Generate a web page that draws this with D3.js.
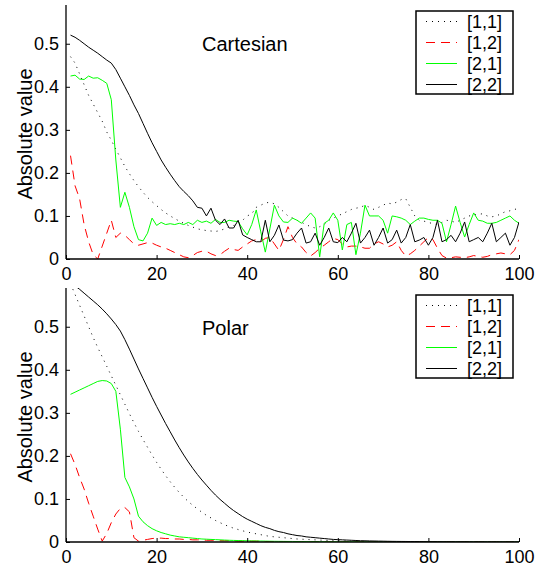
<!DOCTYPE html>
<html>
<head>
<meta charset="utf-8">
<script src="https://cdn.jsdelivr.net/npm/d3@7"></script>
<style>
  body { margin: 0; background: white; }
  text { font-family: "Liberation Sans", Arial, sans-serif; fill: black; }
</style>
</head>
<body>
<script>
// values for index 1..100
var steps = d3.range(1, 101)
var xTicks = [0, 20, 40, 60, 80, 100]
var yTicks = [0, 0.1, 0.2, 0.3, 0.4, 0.5]
var seriesNames = ["[1,1]", "[1,2]", "[2,1]", "[2,2]"]

// Cartesian panel
var cart11 = [.47,.455,.43,.405,.38,.36,.34,.32,.295,.276,.255,.235,.215,.198,.182,.168,.155,.143,.133,.124,
  .115,.107,.1,.094,.088,.083,.078,.074,.07,.068,.066,.065,.064,.066,.07,.075,.078,.08,.09,.1,
  .105,.12,.125,.13,.132,.128,.12,.11,.1,.095,.09,.085,.08,.075,.072,.075,.08,.09,.095,.1,
  .105,.11,.115,.118,.12,.125,.12,.115,.12,.125,.13,.128,.132,.138,.14,.12,.1,.09,.088,.085,
  .082,.08,.085,.09,.088,.085,.09,.095,.1,.102,.104,.105,.1,.098,.1,.105,.11,.112,.115,.118]
var cart12 = [.24,.17,.14,.08,.04,.01,0,.03,.06,.09,.05,.06,.055,.045,.035,.032,.035,.038,.037,.032,
  .028,.025,.02,.015,.01,.005,.003,.008,.015,.018,.018,.012,.008,.01,.018,.025,.022,.02,.028,.035,
  .042,.045,.04,.048,.05,.035,.02,.045,.075,.05,.035,.028,.015,.007,.015,.025,.032,.04,.048,.045,
  .035,.028,.03,.03,.028,.025,.025,.035,.04,.035,.028,.032,.04,.02,.007,.012,.02,.03,.04,.05,
  .045,.025,.008,.002,.003,.005,.004,.003,.005,.008,.006,.004,.006,.01,.012,.014,.012,.01,.02,.045]
var cart21 = [.425,.427,.418,.417,.425,.42,.421,.415,.408,.37,.23,.12,.155,.12,.075,.045,.042,.06,.095,.078,
  .085,.08,.082,.08,.083,.08,.085,.08,.09,.085,.088,.083,.092,.085,.085,.09,.088,.087,.07,.056,
  .08,.114,.063,.016,.07,.125,.1,.086,.085,.095,.09,.083,.095,.107,.095,.005,.083,.09,.107,.09,
  .021,.08,.085,.01,.06,.125,.1,.1,.1,.09,.06,.1,.098,.095,.09,.08,.088,.095,.095,.092,
  .09,.09,.083,.04,.08,.123,.085,.051,.08,.107,.09,.088,.083,.083,.085,.09,.095,.1,.09,.083]
var cart22 = [.52,.515,.508,.5,.492,.485,.478,.47,.462,.455,.44,.42,.4,.38,.358,.338,.315,.292,.27,.25,
  .23,.213,.197,.182,.168,.157,.147,.135,.12,.118,.1,.118,.09,.08,.093,.072,.072,.09,.056,.05,
  .045,.04,.04,.09,.04,.055,.079,.044,.042,.045,.06,.072,.037,.04,.06,.032,.05,.072,.04,.038,
  .05,.04,.06,.083,.037,.05,.067,.032,.05,.072,.037,.045,.067,.037,.05,.08,.04,.044,.05,.032,
  .05,.09,.04,.045,.055,.04,.06,.086,.04,.045,.05,.04,.06,.083,.04,.05,.06,.032,.05,.086]

// Polar panel
var polar11 = [.6,.575,.55,.525,.5,.475,.452,.43,.408,.386,.364,.342,.32,.298,.277,.257,.238,.22,.202,.185,
  .169,.154,.14,.127,.115,.104,.094,.085,.077,.069,.062,.056,.05,.045,.04,.036,.032,.029,.026,.023,
  .021,.019,.017,.015,.013,.012,.011,.01,.009,.008,.007,.0065,.006,.0055,.005,.0045,.004,.0036,.0032,.0029,
  .0026,.0023,.0021,.0019,.0017,.0015,.0013,.0012,.0011,.001,.0009,.0008,.0007,.0006,.0006,.0005,.0005,.0004,.0004,.0003,
  .0003,.0003,.0002,.0002,.0002,.0002,.0001,.0001,.0001,.0001,.0001,.0001,.0001,.0001,0,0,0,0,0,0]
var polar12 = [.205,.18,.15,.123,.09,.06,.03,.002,.02,.045,.065,.078,.08,.07,.01,.002,.004,.006,.008,.009,
  .009,.008,.008,.007,.007,.006,.006,.005,.005,.005,.004,.004,.004,.003,.003,.003,.003,.002,.002,.002,
  .002,.002,.002,.001,.001,.001,.001,.001,.001,.001,.001,.001,.0008,.0008,.0007,.0007,.0006,.0006,.0005,.0005,
  .0005,.0004,.0004,.0004,.0003,.0003,.0003,.0003,.0002,.0002,.0002,.0002,.0002,.0001,.0001,.0001,.0001,.0001,.0001,.0001,
  .0001,.0001,.0001,.0001,0,0,0,0,0,0,0,0,0,0,0,0,0,0,0,0]
var polar21 = [.343,.348,.353,.358,.363,.368,.373,.375,.374,.368,.35,.262,.15,.128,.1,.06,.047,.038,.031,.026,
  .022,.019,.016,.014,.012,.011,.01,.009,.008,.007,.0065,.006,.0055,.005,.0045,.004,.0037,.0034,.0031,.0028,
  .0026,.0024,.0022,.002,.0018,.0016,.0015,.0014,.0013,.0012,.0011,.001,.0009,.0008,.0008,.0007,.0007,.0006,.0006,.0005,
  .0005,.0005,.0004,.0004,.0004,.0003,.0003,.0003,.0003,.0002,.0002,.0002,.0002,.0002,.0002,.0001,.0001,.0001,.0001,.0001,
  .0001,.0001,.0001,.0001,.0001,.0001,0,0,0,0,0,0,0,0,0,0,0,0,0,0]
var polar22 = [.605,.595,.587,.578,.569,.56,.551,.541,.53,.518,.505,.49,.47,.448,.425,.402,.38,.358,.336,.315,
  .295,.275,.256,.237,.219,.202,.186,.171,.157,.144,.132,.12,.109,.099,.09,.081,.073,.066,.059,.053,
  .048,.043,.038,.034,.031,.027,.024,.022,.019,.017,.015,.014,.012,.011,.01,.009,.008,.007,.006,.0055,
  .005,.0045,.004,.0035,.003,.0028,.0025,.0023,.0021,.0019,.0017,.0015,.0014,.0013,.0012,.0011,.001,.0009,.0008,.0007,
  .0007,.0006,.0006,.0005,.0005,.0004,.0004,.0004,.0003,.0003,.0003,.0003,.0002,.0002,.0002,.0002,.0002,.0002,.0002,.0002]

var styles = [
  {color: "#000", dash: "1,5"},
  {color: "#ff0000", dash: "9,6"},
  {color: "#00ff00", dash: null},
  {color: "#000", dash: null}
]

var svg = d3.select("body").append("svg")
  .attr("width", 541).attr("height", 567)

drawPanel(svg, {top: 5, bottom: 259, title: "Cartesian", titleY: 51, legendY: 11, id: "c",
  series: [cart11, cart12, cart21, cart22]})
drawPanel(svg, {top: 288, bottom: 542, title: "Polar", titleY: 335, legendY: 295, id: "p",
  series: [polar11, polar12, polar21, polar22]})

function drawPanel(svg, o) {
  var left = 66, right = 519
  var x = d3.scaleLinear().domain([0, 100]).range([left, right])
  var y = d3.scaleLinear().domain([0, 0.59]).range([o.bottom, o.top])

  svg.append("clipPath").attr("id", "clip-" + o.id)
    .append("rect").attr("x", left).attr("y", o.top)
    .attr("width", right - left).attr("height", o.bottom - o.top)

  var plot = svg.append("g").attr("clip-path", "url(#clip-" + o.id + ")")
  var line = d3.line().x(function(d, i) { return x(steps[i]) }).y(function(d) { return y(d) })

  for (var s = 0; s < o.series.length; s++) {
    plot.append("path").datum(o.series[s])
      .attr("d", line)
      .attr("fill", "none")
      .attr("stroke", styles[s].color)
      .attr("stroke-width", 1)
      .attr("stroke-dasharray", styles[s].dash)
  }

  // axes, ticks pointing inward
  var xAxis = d3.axisBottom(x).tickValues(xTicks).tickSize(-4).tickPadding(8)
  var gx = svg.append("g").attr("transform", "translate(0," + o.bottom + ")").call(xAxis)
  var yAxis = d3.axisLeft(y).tickValues(yTicks).tickSize(-4).tickPadding(7)
    .tickFormat(function(d) { return d === 0 ? "0" : d3.format(".1f")(d) })
  var gy = svg.append("g").attr("transform", "translate(" + left + ",0)").call(yAxis)

  ;[gx, gy].forEach(function(g) {
    g.select(".domain").attr("stroke", "#000").attr("stroke-width", 1.3)
    g.selectAll(".tick line").attr("stroke", "#000")
    g.selectAll(".tick text").attr("font-size", 18).attr("fill", "#000")
      .style("font-family", "'Liberation Sans', Arial, sans-serif")
  })
  gy.select(".domain").attr("d", "M0," + o.top + "V" + o.bottom)
  gx.select(".domain").attr("d", "M" + left + ",0H" + right)

  svg.append("text")
    .attr("transform", "translate(32," + ((o.top + o.bottom) / 2 + 2) + ") rotate(-90)")
    .attr("text-anchor", "middle")
    .attr("font-size", 20)
    .text("Absolute value")

  svg.append("text").attr("x", 202).attr("y", o.titleY)
    .attr("font-size", 20).text(o.title)

  // legend
  var lg = svg.append("g").attr("transform", "translate(416," + o.legendY + ")")
  lg.append("rect").attr("width", 97).attr("height", 83)
    .attr("fill", "white").attr("stroke", "#000").attr("stroke-width", 1.5)
  for (var k = 0; k < seriesNames.length; k++) {
    var cy = 10.5 + k * 21
    lg.append("line").attr("x1", 10).attr("x2", 41).attr("y1", cy).attr("y2", cy)
      .attr("stroke", styles[k].color).attr("stroke-width", 1)
      .attr("stroke-dasharray", styles[k].dash)
    lg.append("text").attr("x", 51).attr("y", cy + 6.5)
      .attr("font-size", 18).text(seriesNames[k])
  }
}
</script>
</body>
</html>
